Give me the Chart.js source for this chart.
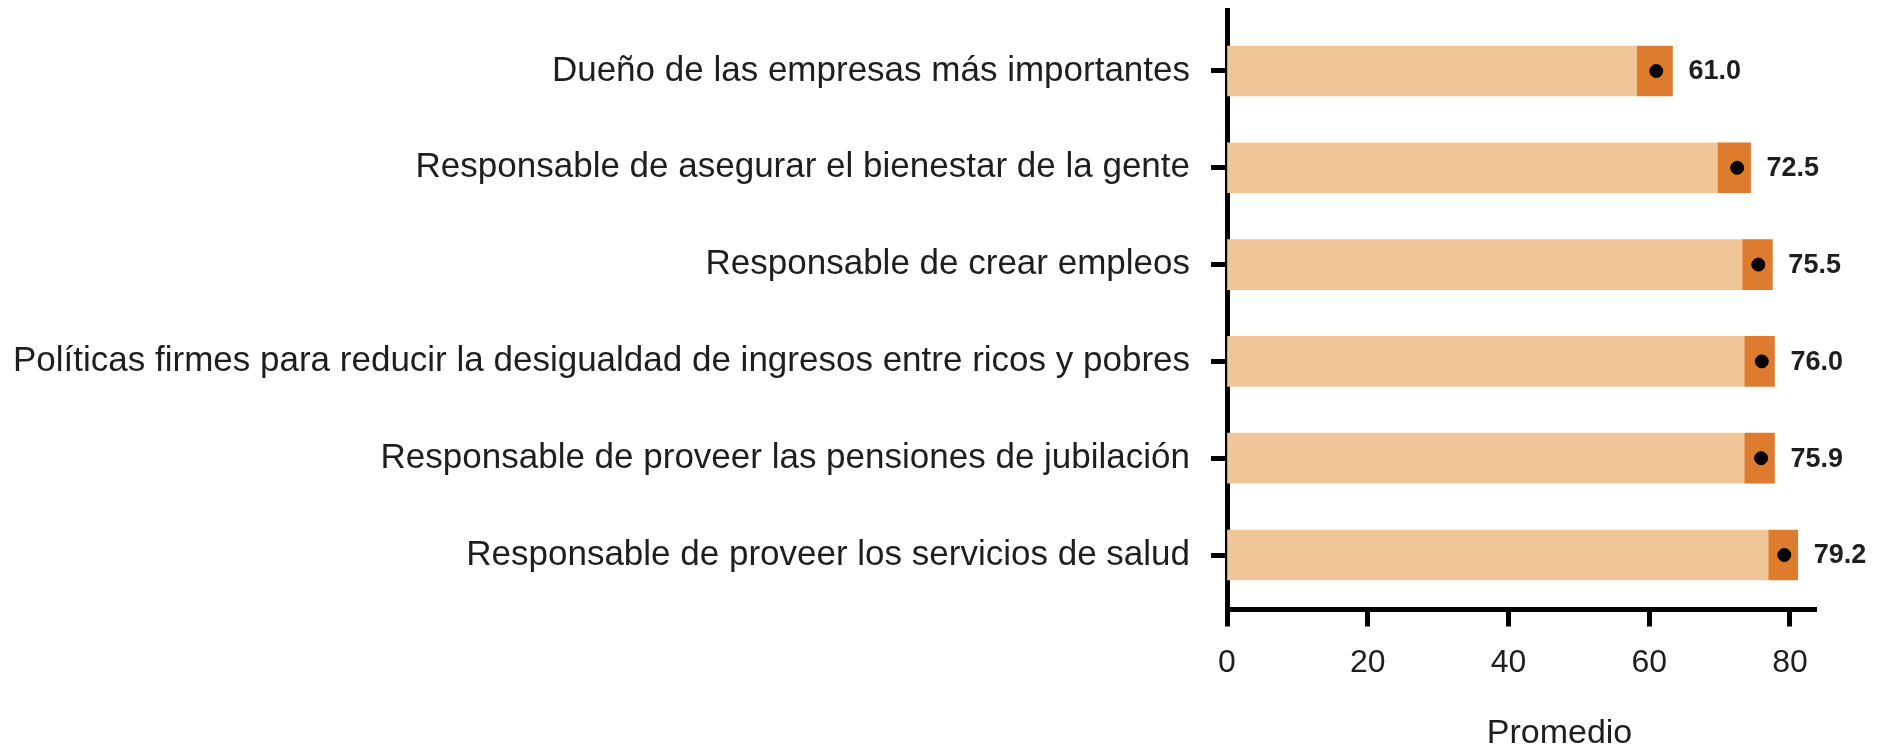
<!DOCTYPE html>
<html lang="es">
<head>
<meta charset="utf-8">
<title>Promedio</title>
<script src="https://cdn.jsdelivr.net/npm/chart.js@4/dist/chart.umd.min.js"></script>
<style>
  html, body { margin: 0; padding: 0; background: #fff; }
  #wrap { width: 1887px; height: 749px; position: relative; }
</style>
</head>
<body>
<div id="wrap"><canvas id="chart"></canvas></div>
<script>
const categories = [
  "Dueño de las empresas más importantes",
  "Responsable de asegurar el bienestar de la gente",
  "Responsable de crear empleos",
  "Políticas firmes para reducir la desigualdad de ingresos entre ricos y pobres",
  "Responsable de proveer las pensiones de jubilación",
  "Responsable de proveer los servicios de salud",
];
const means = [61.0, 72.5, 75.5, 76.0, 75.9, 79.2];
const lower = [58.3, 69.8, 73.3, 73.6, 73.6, 77.0];
const upper = [63.3, 74.4, 77.5, 77.8, 77.8, 81.1];
const xTickValues = [0, 20, 40, 60, 80];
const xTitle = "Promedio";

const FONT = "'Liberation Sans', Arial, Helvetica, sans-serif";
const LIGHT = "#f0c699";
const DARK = "#dd7b2f";
const INK = "#1e1e1e";

// mean labels to the right of each interval
const valueLabels = {
  id: "valueLabels",
  afterDatasetsDraw(chart) {
    const { ctx } = chart;
    const xs = chart.scales.x;
    const ys = chart.scales.y;
    ctx.save();
    ctx.font = `bold 27px ${FONT}`;
    ctx.fillStyle = INK;
    ctx.textAlign = "left";
    ctx.textBaseline = "middle";
    means.forEach((m, i) => {
      ctx.fillText(m.toFixed(1), xs.getPixelForValue(upper[i]) + 16, ys.getPixelForValue(i) + 1);
    });
    ctx.restore();
  },
};

// x title sits a bit right of the plot centre in the original
const axisTitle = {
  id: "axisTitle",
  afterDraw(chart) {
    const { ctx, chartArea } = chart;
    ctx.save();
    ctx.font = `34px ${FONT}`;
    ctx.fillStyle = INK;
    ctx.textAlign = "center";
    ctx.textBaseline = "alphabetic";
    ctx.fillText(xTitle, (chartArea.left + chartArea.right) / 2 + 38, chart.height - 6);
    ctx.restore();
  },
};

new Chart(document.getElementById("chart"), {
  type: "bar",
  data: {
    datasets: [
      {
        type: "scatter",
        data: means.map((v, i) => ({ x: v, y: i })),
        backgroundColor: "#000",
        borderColor: "#000",
        pointRadius: 6.5,
        pointHoverRadius: 6.5,
        order: 1,
      },
      {
        data: lower.map((v, i) => ({ x: [v, upper[i]], y: i })),
        backgroundColor: DARK,
        barThickness: 50,
        grouped: false,
        order: 2,
      },
      {
        data: lower.map((v, i) => ({ x: v, y: i })),
        backgroundColor: LIGHT,
        barThickness: 50,
        grouped: false,
        order: 3,
      },
    ],
  },
  options: {
    indexAxis: "y",
    responsive: true,
    maintainAspectRatio: false,
    animation: false,
    layout: { padding: { top: 10, right: 71, bottom: 0, left: 0 } },
    plugins: {
      legend: { display: false },
      tooltip: { enabled: false },
    },
    scales: {
      x: {
        type: "linear",
        position: "bottom",
        min: 0,
        max: 83.7,
        offset: false,
        afterBuildTicks: (scale) => {
          scale.ticks = xTickValues.map((v) => ({ value: v }));
        },
        afterFit: (scale) => {
          scale.height = 139.5;
        },
        grid: {
          offset: false,
          drawOnChartArea: false,
          drawTicks: true,
          tickLength: 17,
          tickWidth: 5,
          tickColor: "#000",
        },
        border: { display: true, color: "#000", width: 5 },
        ticks: {
          padding: 17,
          color: INK,
          font: { family: FONT, size: 32 },
          maxRotation: 0,
        },
        title: { display: false },
      },
      y: {
        type: "linear",
        position: "left",
        reverse: true,
        min: -0.63,
        max: 5.563,
        offset: false,
        afterBuildTicks: (scale) => {
          scale.ticks = categories.map((_, i) => ({ value: i }));
        },
        afterFit: (scale) => {
          scale.width = 1227;
          scale.paddingTop = 0;
          scale.paddingBottom = 0;
        },
        grid: {
          offset: false,
          drawOnChartArea: false,
          drawTicks: true,
          tickLength: 16,
          tickWidth: 5,
          tickColor: "#000",
        },
        border: { display: true, color: "#000", width: 5 },
        ticks: {
          padding: 21,
          color: INK,
          autoSkip: false,
          font: { family: FONT, size: 35 },
          callback: (value) => categories[value],
        },
      },
    },
  },
  plugins: [valueLabels, axisTitle],
});
</script>
</body>
</html>
